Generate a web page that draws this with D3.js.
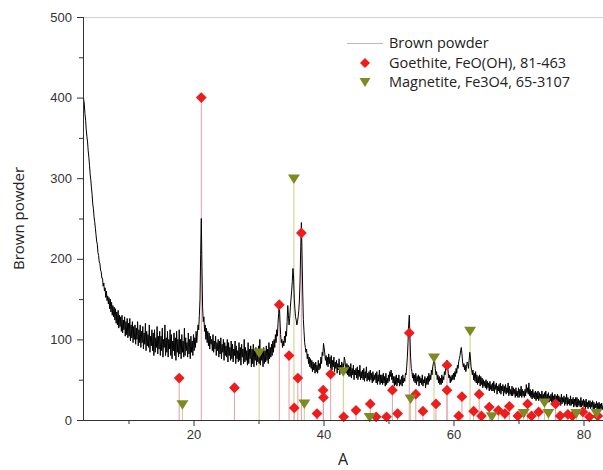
<!DOCTYPE html>
<html>
<head>
<meta charset="utf-8">
<script src="https://cdn.jsdelivr.net/npm/d3@7/dist/d3.min.js"></script>
<style>
  html, body { margin: 0; padding: 0; background: #fff; }
  svg { display: block; }
</style>
</head>
<body>
<svg id="chart" width="603" height="470"></svg>
<script>
// ---- Data ----
const twoThetaStart = 3;
const twoThetaStep = 0.1;
// Brown powder pattern, one value per 0.1 degree from 3.0 to 83.0 (one row per degree)
const brownPowder = [
  410, 398, 392, 380, 372, 360, 352, 345, 334, 326,
  316, 305, 298, 288, 280, 268, 262, 252, 246, 238,
  230, 222, 218, 208, 204, 196, 194, 186, 184, 176,
  176, 166, 170, 160, 164, 152, 160, 148, 154, 144,
  152, 138, 150, 134, 146, 130, 142, 128, 140, 124,
  138, 120, 134, 118, 136, 114, 130, 116, 128, 110,
  130, 108, 124, 112, 128, 104, 122, 106, 126, 102,
  120, 104, 126, 98, 118, 102, 122, 96, 116, 100,
  118, 94, 114, 100, 122, 92, 112, 96, 118, 90,
  110, 96, 116, 88, 108, 94, 120, 86, 110, 92,
  106, 90, 118, 84, 104, 92, 112, 86, 108, 80,
  112, 84, 102, 90, 116, 82, 104, 88, 110, 80,
  104, 86, 114, 78, 100, 90, 118, 80, 102, 84,
  110, 78, 100, 88, 112, 80, 106, 76, 98, 86,
  108, 80, 102, 74, 110, 84, 100, 78, 112, 82,
  100, 76, 106, 84, 98, 78, 114, 80, 102, 86,
  96, 78, 108, 82, 100, 76, 104, 84, 98, 80,
  106, 86, 102, 90, 110, 96, 108, 118, 112, 130,
  150, 205, 250, 190, 140, 122, 128, 110, 118, 100,
  114, 96, 110, 92, 108, 88, 104, 94, 100, 86,
  106, 84, 98, 88, 104, 80, 96, 86, 100, 78,
  98, 82, 102, 76, 94, 84, 100, 74, 96, 80,
  92, 78, 100, 72, 96, 80, 90, 74, 98, 76,
  94, 72, 88, 80, 98, 70, 92, 76, 86, 72,
  96, 74, 90, 68, 94, 78, 88, 70, 100, 72,
  90, 74, 86, 68, 96, 70, 88, 76, 92, 66,
  88, 70, 94, 66, 86, 74, 90, 68, 84, 72,
  92, 70, 100, 68, 88, 74, 84, 66, 90, 70,
  86, 72, 92, 74, 88, 70, 96, 76, 90, 78,
  94, 80, 98, 84, 100, 90, 106, 96, 112, 104,
  120, 132, 146, 124, 106, 96, 100, 90, 98, 92,
  104, 96, 110, 104, 122, 142, 130, 118, 126, 140,
  150, 160, 172, 188, 176, 150, 138, 128, 124, 118,
  122, 128, 136, 150, 175, 215, 245, 205, 160, 125,
  110, 96, 90, 84, 88, 76, 82, 70, 78, 66,
  76, 64, 74, 60, 72, 62, 70, 58, 72, 60,
  68, 58, 74, 62, 70, 64, 78, 70, 84, 80,
  95, 90, 82, 74, 80, 68, 78, 66, 82, 70,
  78, 64, 80, 62, 74, 66, 78, 60, 72, 64,
  74, 58, 70, 62, 76, 56, 68, 60, 72, 58,
  70, 66, 78, 74, 66, 58, 70, 56, 68, 54,
  66, 54, 70, 52, 64, 56, 68, 50, 62, 56,
  64, 52, 66, 50, 62, 54, 68, 50, 60, 52,
  62, 50, 64, 48, 60, 52, 66, 48, 58, 50,
  60, 48, 62, 50, 58, 46, 60, 48, 56, 50,
  58, 46, 60, 44, 56, 48, 62, 44, 56, 46,
  56, 44, 58, 46, 54, 42, 58, 44, 52, 46,
  56, 48, 60, 54, 62, 50, 58, 46, 54, 42,
  54, 44, 56, 42, 52, 46, 56, 42, 50, 44,
  54, 42, 56, 46, 52, 48, 58, 56, 66, 78,
  96, 118, 130, 104, 78, 64, 60, 52, 58, 48,
  56, 46, 58, 44, 54, 48, 56, 42, 54, 46,
  52, 44, 56, 42, 50, 46, 54, 40, 52, 44,
  54, 44, 58, 48, 56, 50, 62, 56, 66, 70,
  80, 72, 64, 56, 60, 50, 56, 46, 54, 44,
  52, 44, 56, 46, 54, 50, 60, 56, 64, 68,
  74, 66, 58, 52, 56, 46, 54, 48, 56, 50,
  58, 50, 60, 54, 64, 58, 68, 64, 72, 76,
  80, 86, 90, 82, 72, 66, 70, 62, 68, 60,
  66, 72, 70, 64, 74, 84, 78, 66, 62, 56,
  62, 50, 58, 48, 60, 46, 56, 44, 54, 46,
  56, 42, 54, 44, 52, 40, 50, 42, 48, 40,
  50, 38, 48, 40, 46, 36, 48, 38, 44, 36,
  46, 36, 48, 34, 44, 38, 46, 32, 42, 36,
  44, 34, 46, 32, 42, 36, 44, 30, 42, 34,
  44, 32, 40, 34, 46, 30, 42, 32, 38, 30,
  42, 30, 40, 32, 38, 28, 40, 30, 36, 28,
  40, 28, 38, 30, 42, 28, 38, 30, 36, 28,
  38, 30, 44, 34, 40, 32, 46, 30, 38, 28,
  36, 26, 38, 28, 34, 26, 36, 24, 34, 26,
  36, 24, 34, 26, 32, 24, 36, 22, 32, 26,
  34, 24, 36, 22, 32, 26, 34, 22, 30, 24,
  32, 22, 34, 20, 30, 24, 32, 20, 30, 22,
  32, 20, 30, 22, 28, 18, 32, 20, 28, 22,
  30, 18, 28, 20, 32, 18, 28, 20, 26, 18,
  30, 18, 26, 20, 28, 16, 26, 18, 28, 16,
  28, 16, 26, 18, 24, 16, 28, 16, 24, 18,
  26, 16, 24, 14, 26, 16, 22, 14, 24, 16,
  24, 14, 22, 16, 24, 13, 22, 14, 20, 15,
  23, 13, 21, 14, 22, 12, 20, 14, 21, 13,
  18
];
// Goethite, FeO(OH), 81-463
const goethitePos = [17.8, 21.2, 26.3, 33.2, 34.7, 35.5, 36.05, 36.6, 39.0, 39.95, 40.0, 41.1, 43.1, 45.0, 47.2, 48.1, 49.7, 50.6, 51.4, 53.2, 54.2, 55.3, 57.3, 59.0, 59.0, 60.8, 61.3, 63.1, 63.95, 64.3, 65.5, 66.9, 67.9, 68.6, 69.9, 71.4, 72.0, 73.1, 75.7, 76.4, 77.6, 78.3, 79.9, 80.9, 82.2];
const goethiteInt = [52, 400, 40, 143, 80, 15, 52, 232, 8, 37, 28, 57, 4, 12, 20, 4, 4, 37, 8, 108, 32, 11, 20, 68, 37, 5, 29, 11, 32, 5, 16, 12, 8, 17, 5, 20, 5, 10, 20, 5, 7, 5, 10, 4, 5];
// Magnetite, Fe3O4, 65-3107
const magnetitePos = [18.3, 30.1, 35.45, 37.05, 43.05, 47.1, 53.4, 57.0, 62.55, 65.9, 70.8, 74.0, 74.6, 78.9, 82.0];
const magnetiteInt = [19, 83, 299, 20, 60, 3, 26, 77, 110, 4, 8, 21, 8, 8, 8];

const xTicks = [20, 40, 60, 80];
const xMinorTicks = [10, 30, 50, 70];
const yTicks = [0, 100, 200, 300, 400, 500];
const yMinorTicks = [50, 150, 250, 350, 450];
const seriesNames = ["Brown powder", "Goethite, FeO(OH), 81-463", "Magnetite, Fe3O4, 65-3107"];
const xTitle = "A";
const yTitle = "Brown powder";

(function () {
const svg = d3.select("#chart");
const pL = 83, pR = 603, pT = 17, pB = 420;
const x = d3.scaleLinear().domain([3, 83]).range([pL, pR]);
const y = d3.scaleLinear().domain([0, 500]).range([pB, pT]);

const cRed = "#ee1c1c", cOlive = "#7f8a22";
const cRedStick = "#e3a0a8", cOliveStick = "#cfcd86";
const tickFont = "Liberation Sans, Arial, sans-serif";
const textFont = "Open Sans, sans-serif";

svg.append("line").attr("x1", pL).attr("x2", pR).attr("y1", pT + 0.5).attr("y2", pT + 0.5)
  .attr("stroke", "#d0d0d0").attr("stroke-width", 1);

const plot = svg.append("g");
plot.append("clipPath").attr("id", "clip").append("rect")
  .attr("x", pL).attr("y", pT - 2).attr("width", pR - pL).attr("height", pB - pT + 2);

const goethite = goethitePos.map((p, i) => ({ p, v: goethiteInt[i] }));
const magnetite = magnetitePos.map((p, i) => ({ p, v: magnetiteInt[i] }));

plot.append("g").selectAll("line").data(goethite).join("line")
  .attr("x1", d => x(d.p)).attr("x2", d => x(d.p))
  .attr("y1", y(0)).attr("y2", d => y(d.v))
  .attr("stroke", cRedStick).attr("stroke-width", 1);
plot.append("g").selectAll("line").data(magnetite).join("line")
  .attr("x1", d => x(d.p)).attr("x2", d => x(d.p))
  .attr("y1", y(0)).attr("y2", d => y(d.v))
  .attr("stroke", cOliveStick).attr("stroke-width", 1);

const pattern = brownPowder.map((v, i) => ({ t: twoThetaStart + i * twoThetaStep, v }));
plot.append("path").datum(pattern)
  .attr("clip-path", "url(#clip)")
  .attr("fill", "none").attr("stroke", "#000").attr("stroke-width", 1)
  .attr("stroke-linejoin", "round")
  .attr("d", d3.line().x(d => x(d.t)).y(d => y(d.v)));

const diamond = d3.symbol().type(d3.symbolSquare).size(58);
const triPath = "M-6,-4.5L6,-4.5L0,5Z";
plot.append("g").selectAll("path").data(goethite).join("path")
  .attr("d", diamond())
  .attr("transform", d => `translate(${x(d.p)},${y(d.v)}) rotate(45)`)
  .attr("fill", cRed);
plot.append("g").selectAll("path").data(magnetite).join("path")
  .attr("d", triPath)
  .attr("transform", d => `translate(${x(d.p)},${y(d.v)})`)
  .attr("fill", cOlive);

const xAxis = svg.append("g").attr("transform", `translate(0,${pB})`)
  .call(d3.axisBottom(x).tickValues(xTicks).tickSize(6).tickPadding(4).tickFormat(d3.format("d")));
const xMinor = svg.append("g").attr("transform", `translate(0,${pB})`)
  .call(d3.axisBottom(x).tickValues(xMinorTicks).tickSize(4).tickFormat(""));
xMinor.select(".domain").remove();
const yAxis = svg.append("g").attr("transform", `translate(${pL},0)`)
  .call(d3.axisLeft(y).tickValues(yTicks).tickSize(6).tickPadding(5).tickFormat(d3.format("d")));
const yMinor = svg.append("g").attr("transform", `translate(${pL},0)`)
  .call(d3.axisLeft(y).tickValues(yMinorTicks).tickSize(4).tickFormat(""));
yMinor.select(".domain").remove();

[xAxis, yAxis, xMinor, yMinor].forEach(g => {
  g.selectAll(".domain").attr("stroke", "#333");
  g.selectAll(".tick line").attr("stroke", "#333");
  g.selectAll("text").attr("font-family", tickFont).attr("font-size", 13).attr("fill", "#333");
});
xAxis.select(".domain").attr("d", `M${pL},0.5H${pR}`);
yAxis.select(".domain").attr("d", `M0.5,${pT}V${pB}`);

svg.append("text").attr("x", (pL + pR) / 2).attr("y", 465)
  .attr("text-anchor", "middle").attr("font-family", textFont).attr("font-size", 16)
  .attr("fill", "#222").text(xTitle);
svg.append("text").attr("transform", `translate(24,${(pT + pB) / 2}) rotate(-90)`)
  .attr("text-anchor", "middle").attr("font-family", textFont).attr("font-size", 15)
  .attr("fill", "#222").text(yTitle);

const lg = svg.append("g");
lg.append("line").attr("x1", 347).attr("x2", 383).attr("y1", 43.5).attr("y2", 43.5)
  .attr("stroke", "#b4bcc4").attr("stroke-width", 1);
lg.append("path").attr("d", d3.symbol().type(d3.symbolSquare).size(50)()).attr("transform", "translate(365,63) rotate(45)").attr("fill", cRed);
lg.append("path").attr("d", "M-5.5,-4L5.5,-4L0,5Z").attr("transform", "translate(365,82)").attr("fill", cOlive);
seriesNames.forEach((name, i) => {
  lg.append("text").attr("x", 389).attr("y", 48 + i * 19.5)
    .attr("font-family", textFont).attr("font-size", 14.5).attr("fill", "#222").text(name);
});
})();
</script>
</body>
</html>
